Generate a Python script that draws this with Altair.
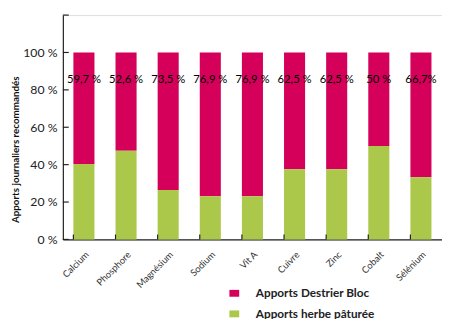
import altair as alt
import pandas as pd

categories = ["Calcium", "Phosphore", "Magnésium", "Sodium", "Vit A", "Cuivre", "Zinc", "Cobalt", "Sélénium"]
destrier = [59.7, 52.6, 73.5, 76.9, 76.9, 62.5, 62.5, 50.0, 66.7]
herbe = [40.3, 47.4, 26.5, 23.1, 23.1, 37.5, 37.5, 50.0, 33.3]
labels = ["59,7 %", "52,6 %", "73,5 %", "76,9 %", "76,9 %", "62,5 %", "62,5 %", "50 %", "66,7%"]
series = ["Apports Destrier Bloc", "Apports herbe pâturée"]
colors = ["#D4005A", "#ABC84B"]
y_ticks = [0, 20, 40, 60, 80, 100, 120]
label_pos = 85

rows = []
for i, c in enumerate(categories):
    rows.append({"cat": c, "serie": series[0], "val": destrier[i], "ord": 1})
    rows.append({"cat": c, "serie": series[1], "val": herbe[i], "ord": 0})
df = pd.DataFrame(rows)
lab_df = pd.DataFrame({"cat": categories, "lab": labels, "val": [label_pos] * len(categories)})
tick_df = pd.DataFrame({"val": y_ticks})
cat_df = pd.DataFrame({"cat": categories})

W, H = 387, 229
FONT = "Lato"
YTITLE = "Apports journaliers recommandés"

xscale = alt.Scale(domain=categories, paddingInner=0.5, paddingOuter=0.25)
yscale = alt.Scale(domain=[0, 120], nice=False)

x_axis = alt.Axis(labelAngle=315, labelFontSize=9.5, labelColor="#333", labelFont=FONT,
                  ticks=False, labelPadding=10, domainColor="#222", domainWidth=1.2)
y_axis = alt.Axis(values=y_ticks, ticks=False, grid=False, labelPadding=6, labelOverlap=False,
                  labelExpr="datum.value == 120 ? '' : datum.value + ' %'",
                  labelFontSize=12.5, labelColor="#222", labelFont=FONT,
                  domainColor="#222", domainWidth=1.2,
                  titleFont=FONT, titleFontSize=10, titleFontWeight="bold", titleColor="#111",
                  titleX=-43, titleY=137, titleAngle=270)

bars = alt.Chart(df).mark_bar().encode(
    x=alt.X("cat:N", scale=xscale, sort=categories, title=None, axis=x_axis),
    y=alt.Y("val:Q", stack="zero", scale=yscale, title=YTITLE, axis=y_axis),
    color=alt.Color("serie:N", scale=alt.Scale(domain=series, range=colors),
                    legend=alt.Legend(title=None, orient="none", legendX=169, legendY=278,
                                      symbolType="M-1,-0.7H1V0.7H-1Z", symbolSize=100,
                                      symbolStrokeWidth=0, symbolOpacity=1,
                                      labelFont=FONT, labelFontSize=12, labelFontWeight="bold",
                                      labelColor="#222", rowPadding=9, labelOffset=16)),
    order=alt.Order("ord:Q"),
)

texts = alt.Chart(lab_df).mark_text(fontSize=11.5, font=FONT, color="#000").encode(
    x=alt.X("cat:N", scale=xscale, sort=categories, title=None, axis=x_axis),
    y=alt.Y("val:Q", scale=yscale, title=YTITLE, axis=y_axis),
    text="lab:N",
)

yticks = alt.Chart(tick_df).mark_rule(color="#222", strokeWidth=1.2).encode(
    y=alt.Y("val:Q", scale=yscale, title=YTITLE, axis=y_axis),
    x=alt.value(0),
    x2=alt.value(6),
)

xticks = alt.Chart(cat_df).mark_rule(color="#222", strokeWidth=1.2).encode(
    x=alt.X("cat:N", scale=xscale, sort=categories, bandPosition=0, title=None, axis=x_axis),
    y=alt.value(H),
    y2=alt.value(H - 5),
)

chart = alt.layer(bars, texts, yticks, xticks).properties(
    width=W, height=H,
    autosize=alt.AutoSizeParams(type="none"),
    padding={"left": 56, "top": 4, "right": 0, "bottom": 78},
).configure_view(stroke=None).configure(background="white")

chart.save("out.html", embed_options={"renderer": "svg", "actions": False})
